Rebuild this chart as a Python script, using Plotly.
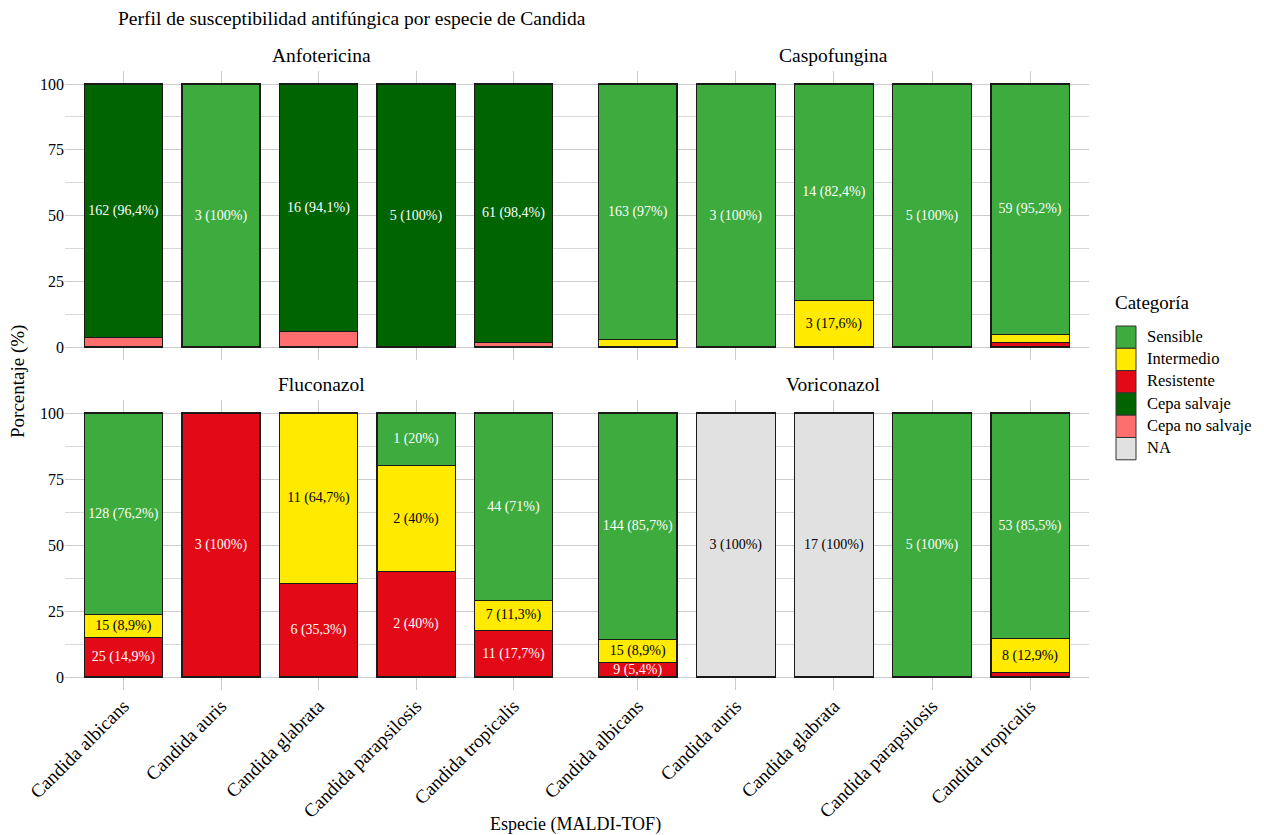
import plotly.graph_objects as go

# ---------------- data ----------------
species = ["Candida albicans", "Candida auris", "Candida glabrata",
           "Candida parapsilosis", "Candida tropicalis"]
drugs = ["Anfotericina", "Caspofungina", "Fluconazol", "Voriconazol"]
categories = ["Sensible", "Intermedio", "Resistente", "Cepa salvaje",
              "Cepa no salvaje", "NA"]

# counts per species (same order as `species`)
anf_sensible = [0, 3, 0, 0, 0]
anf_cepa_salvaje = [162, 0, 16, 5, 61]
anf_cepa_no_salvaje = [6, 0, 1, 0, 1]

casp_sensible = [163, 3, 14, 5, 59]
casp_intermedio = [5, 0, 3, 0, 2]
casp_resistente = [0, 0, 0, 0, 1]

fluc_sensible = [128, 0, 0, 1, 44]
fluc_intermedio = [15, 0, 11, 2, 7]
fluc_resistente = [25, 3, 6, 2, 11]

vori_sensible = [144, 0, 0, 5, 53]
vori_intermedio = [15, 0, 0, 0, 8]
vori_resistente = [9, 0, 0, 0, 1]
vori_na = [0, 3, 17, 0, 0]

counts = {
    "Anfotericina": {"Sensible": anf_sensible, "Cepa salvaje": anf_cepa_salvaje,
                     "Cepa no salvaje": anf_cepa_no_salvaje},
    "Caspofungina": {"Sensible": casp_sensible, "Intermedio": casp_intermedio,
                     "Resistente": casp_resistente},
    "Fluconazol": {"Sensible": fluc_sensible, "Intermedio": fluc_intermedio,
                   "Resistente": fluc_resistente},
    "Voriconazol": {"Sensible": vori_sensible, "Intermedio": vori_intermedio,
                    "Resistente": vori_resistente, "NA": vori_na},
}

# ---------------- styles ----------------
colors = {"Sensible": "#3DAB3D", "Intermedio": "#FFEA00", "Resistente": "#E30A17",
          "Cepa salvaje": "#006400", "Cepa no salvaje": "#FF6E6E", "NA": "#E1E1E1"}
text_colors = {"Sensible": "white", "Intermedio": "black", "Resistente": "white",
               "Cepa salvaje": "white", "Cepa no salvaje": "black", "NA": "black"}
FONT = "Liberation Serif"
W, H = 1264, 835


def px_x(p):
    return p / W


def px_y(p):
    return 1 - p / H


def fmt_pct(p):
    s = f"{p:.1f}"
    if s.endswith(".0"):
        s = s[:-2]
    return s.replace(".", ",")


fig = go.Figure()

# panel layout (pixel domains)
x_domains = [(65, 577), (577, 1089), (65, 577), (577, 1089)]
y_domains = [(70.85, 360.15), (70.85, 360.15), (399.8, 690.2), (399.8, 690.2)]
x_ranges = [[-0.6, 4.65], [-0.62, 4.6], [-0.6, 4.65], [-0.62, 4.6]]

stack_order = list(reversed(categories))  # first legend item on top

for i, drug in enumerate(drugs):
    ax = "" if i == 0 else str(i + 1)
    data = counts[drug]
    totals = [sum(data[c][j] for c in data) for j in range(len(species))]
    for cat in stack_order:
        if cat not in data:
            continue
        vals = data[cat]
        ys, texts = [], []
        for j, n in enumerate(vals):
            if n == 0:
                ys.append(None)
                texts.append("")
                continue
            pct = 100 * n / totals[j]
            ys.append(pct)
            if pct >= 5 and cat != "Cepa no salvaje":
                texts.append(f"{n} ({fmt_pct(pct)}%)")
            else:
                texts.append("")
        fig.add_trace(go.Bar(
            x=species, y=ys, name=cat, text=texts,
            textposition="inside", insidetextanchor="middle", textangle=0,
            textfont=dict(family=FONT, size=14, color=text_colors[cat]),
            marker=dict(color=colors[cat], line=dict(color="#1a1a1a", width=1.2)),
            width=0.8, showlegend=False, cliponaxis=False,
            xaxis="x" + ax, yaxis="y" + ax,
        ))

    xa = dict(domain=[px_x(x_domains[i][0]), px_x(x_domains[i][1])],
              range=x_ranges[i], type="category", anchor="y" + ax,
              automargin=False,
              showgrid=True, gridcolor="#CCCCCC", gridwidth=1,
              zeroline=False, showline=False, ticks="",
              tickfont=dict(family=FONT, size=19, color="black"),
              showticklabels=(i >= 2), tickangle=-45)
    ya = dict(domain=[px_y(y_domains[i][1]), px_y(y_domains[i][0])],
              range=[-5, 105], anchor="x" + ax, automargin=False,
              tickvals=[0, 25, 50, 75, 100],
              showgrid=True, gridcolor="#CCCCCC", gridwidth=1,
              minor=dict(tickvals=[12.5, 37.5, 62.5, 87.5], showgrid=True,
                         gridcolor="#D9D9D9", gridwidth=1),
              zeroline=False, showline=False, ticks="",
              tickfont=dict(family=FONT, size=16, color="black"),
              showticklabels=(i % 2 == 0))
    fig.layout["xaxis" + ax] = xa
    fig.layout["yaxis" + ax] = ya

    # facet title
    fig.add_annotation(text=drug, xref="paper", yref="paper",
                       x=px_x((x_domains[i][0] + x_domains[i][1]) / 2),
                       y=px_y(y_domains[i][0] - 15), xanchor="center",
                       yanchor="middle", showarrow=False,
                       font=dict(family=FONT, size=19.5, color="black"))

# axis titles and main title
fig.add_annotation(text="Porcentaje (%)", xref="paper", yref="paper",
                   x=px_x(18), y=px_y(382), textangle=-90, showarrow=False,
                   xanchor="center", yanchor="middle",
                   font=dict(family=FONT, size=19, color="black"))
fig.add_annotation(text="Especie (MALDI-TOF)", xref="paper", yref="paper",
                   x=px_x(575), y=px_y(824), showarrow=False,
                   xanchor="center", yanchor="middle",
                   font=dict(family=FONT, size=18, color="black"))
fig.add_annotation(text="Perfil de susceptibilidad antifúngica por especie de Candida",
                   xref="paper", yref="paper", x=px_x(116), y=px_y(18),
                   showarrow=False, xanchor="left", yanchor="middle",
                   font=dict(family=FONT, size=19.5, color="black"))

# manual legend
fig.add_annotation(text="Categoría", xref="paper", yref="paper",
                   x=px_x(1113), y=px_y(302), showarrow=False,
                   xanchor="left", yanchor="middle",
                   font=dict(family=FONT, size=19, color="black"))
key_top, key_h, key_w = 326, 22.3, 20
for k, cat in enumerate(categories):
    y0 = key_top + k * key_h
    fig.add_shape(type="rect", xref="paper", yref="paper",
                  x0=px_x(1116), x1=px_x(1116 + key_w),
                  y0=px_y(y0 + key_h), y1=px_y(y0),
                  fillcolor=colors[cat], line=dict(color="#333333", width=1))
    fig.add_annotation(text=cat, xref="paper", yref="paper",
                       x=px_x(1145), y=px_y(y0 + key_h / 2 - 1), showarrow=False,
                       xanchor="left", yanchor="middle",
                       font=dict(family=FONT, size=16.5, color="black"))

fig.update_layout(
    width=W, height=H, barmode="stack", bargap=0.2,
    margin=dict(l=0, r=0, t=0, b=0),
    plot_bgcolor="white", paper_bgcolor="white",
    uniformtext=dict(minsize=14, mode="show"),
    font=dict(family=FONT, color="black"),
)

fig.write_html("out.html")
